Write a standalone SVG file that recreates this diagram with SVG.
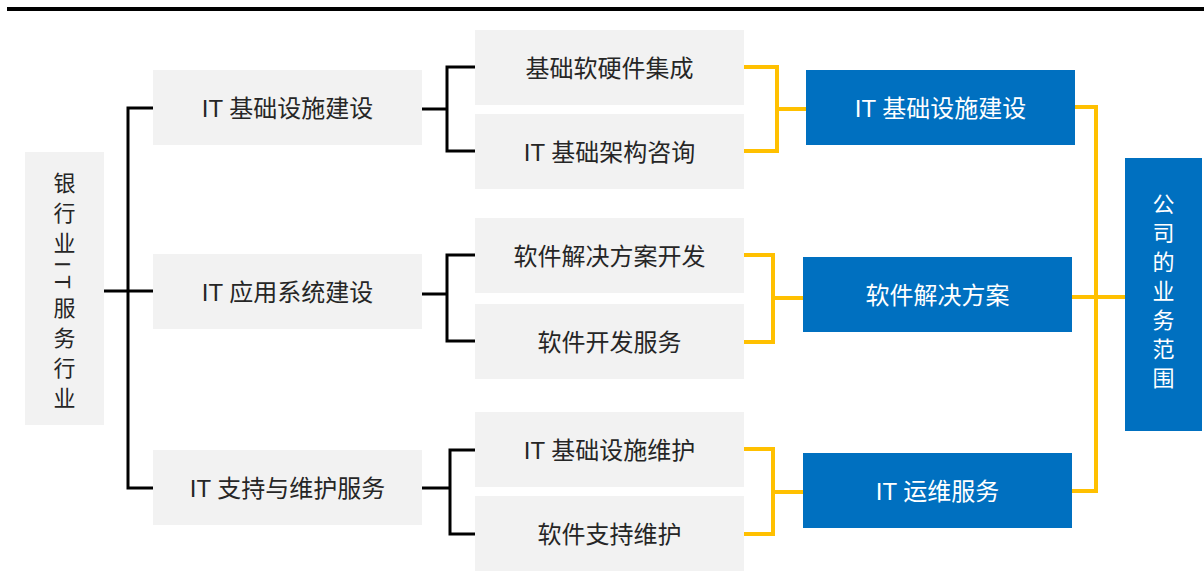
<svg xmlns="http://www.w3.org/2000/svg" width="1204" height="588" viewBox="0 0 1204 588">
<style>
.g{fill:#f2f2f2}
.b{fill:#0070c0}
.t{font-family:"Liberation Sans","Noto Sans CJK SC",sans-serif;font-size:24px;fill:#262626;text-anchor:middle;dominant-baseline:central}
.w{fill:#ffffff}
.v{font-family:"Liberation Sans","Noto Sans CJK SC",sans-serif;font-size:22px;writing-mode:vertical-rl;text-anchor:middle;dominant-baseline:central}
.k{fill:none;stroke:#000;stroke-width:3}
.y{fill:none;stroke:#ffc000;stroke-width:4}
</style>
<rect x="7" y="7" width="1197" height="4" fill="#000"/>
<g id="connectors">
<path class="k" d="M104 291H128M153 108H128V488H153M128 291H153"/>
<path class="k" d="M422 109H447M475 67H447V151H475"/>
<path class="k" d="M422 294H447M475 255H447V341H475"/>
<path class="k" d="M422 488H450M475 450H450V534H475"/>
<path class="y" d="M744 67H777V151H744M777 109H806"/>
<path class="y" d="M744 255H773V342H744M773 298H803"/>
<path class="y" d="M744 449H773V534H744M773 492H803"/>
<path class="y" d="M1075 107H1096V491H1072M1072 297H1125"/>
</g>
<g id="n-bank"><rect class="g" x="25" y="152" width="79" height="273"/><text class="v" x="62" y="294" fill="#262626" letter-spacing="8">银行业IT服务行业</text></g>
<g id="n-infra"><rect class="g" x="153" y="70" width="269" height="75"/><text class="t" x="287.5" y="108">IT 基础设施建设</text></g>
<g id="n-app"><rect class="g" x="153" y="254" width="269" height="75"/><text class="t" x="287.5" y="292">IT 应用系统建设</text></g>
<g id="n-support"><rect class="g" x="153" y="450" width="269" height="75"/><text class="t" x="287.5" y="488">IT 支持与维护服务</text></g>
<g id="n-hw"><rect class="g" x="475" y="30" width="269" height="75"/><text class="t" x="609.5" y="68">基础软硬件集成</text></g>
<g id="n-arch"><rect class="g" x="475" y="114" width="269" height="75"/><text class="t" x="609.5" y="152">IT 基础架构咨询</text></g>
<g id="n-swsol"><rect class="g" x="475" y="218" width="269" height="75"/><text class="t" x="609.5" y="256">软件解决方案开发</text></g>
<g id="n-swdev"><rect class="g" x="475" y="304" width="269" height="75"/><text class="t" x="609.5" y="342">软件开发服务</text></g>
<g id="n-infmaint"><rect class="g" x="475" y="412" width="269" height="75"/><text class="t" x="609.5" y="450">IT 基础设施维护</text></g>
<g id="n-swmaint"><rect class="g" x="475" y="496" width="269" height="75"/><text class="t" x="609.5" y="534">软件支持维护</text></g>
<g id="n-b-infra"><rect class="b" x="806" y="70" width="269" height="75"/><text class="t w" x="940.5" y="108">IT 基础设施建设</text></g>
<g id="n-b-sol"><rect class="b" x="803" y="257" width="269" height="75"/><text class="t w" x="937.5" y="295">软件解决方案</text></g>
<g id="n-b-ops"><rect class="b" x="803" y="453" width="269" height="75"/><text class="t w" x="937.5" y="491">IT 运维服务</text></g>
<g id="n-scope"><rect class="b" x="1125" y="158" width="77" height="273"/><text class="v" x="1161" y="294" fill="#ffffff" letter-spacing="7">公司的业务范围</text></g>
</svg>
